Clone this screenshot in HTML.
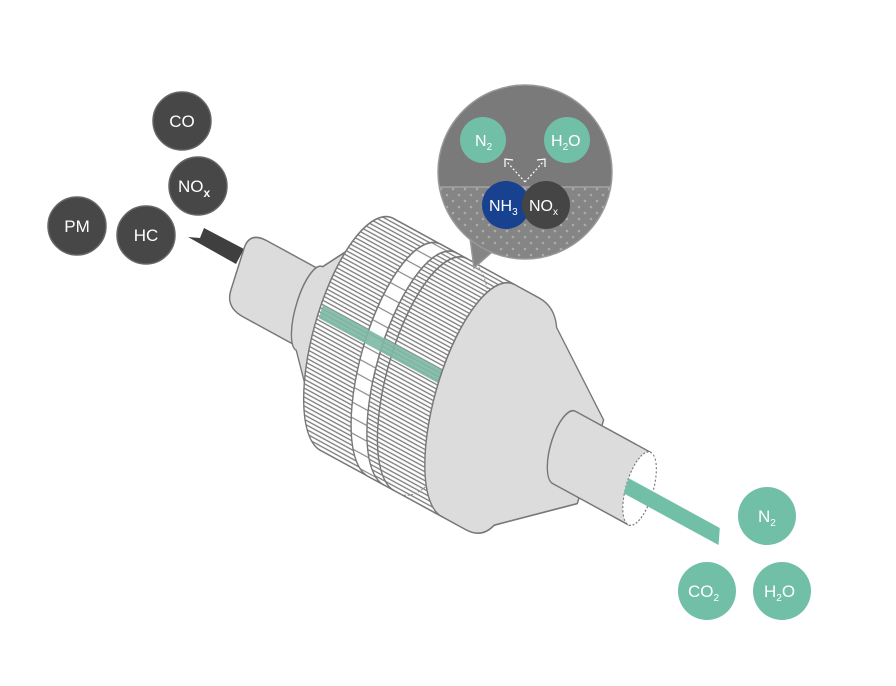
<!DOCTYPE html>
<html><head><meta charset="utf-8"><style>
html,body{margin:0;padding:0;background:#fff}
svg{display:block}
text{font-family:"Liberation Sans",sans-serif;fill:#fff}
</style></head><body>
<svg width="896" height="686" viewBox="0 0 896 686" xmlns="http://www.w3.org/2000/svg">
<defs>
<pattern id="hatch" patternUnits="userSpaceOnUse" width="10" height="4">
<rect width="10" height="4" fill="#fff"/>
<line x1="0" y1="2" x2="10" y2="2" stroke="#777" stroke-width="1.3"/>
</pattern>
<pattern id="band" patternUnits="userSpaceOnUse" width="10" height="14">
<rect width="10" height="14" fill="#fff"/>
<line x1="0" y1="7" x2="10" y2="7" stroke="#888" stroke-width="1.2"/>
</pattern>
<pattern id="dots" patternUnits="userSpaceOnUse" width="12" height="12">
<rect width="12" height="12" fill="#858585"/>
<circle cx="3" cy="3" r="1.3" fill="#aaa"/>
<circle cx="9" cy="9" r="1.3" fill="#aaa"/>
</pattern>
<clipPath id="bot"><rect x="430" y="187" width="200" height="90"/></clipPath>
</defs>

<!-- inlet arrow -->
<polygon points="188,237 200,238 204,228 244,249 236,264" fill="#3f3f3f"/>

<g transform="matrix(0.878,0.479,-0.3,0.95,248,275)" stroke="#777" stroke-width="1.5" stroke-linejoin="round">
  <!-- inlet pipe -->
  <path d="M8,-40 L100,-40 L100,40 L8,40 Q-12,40 -12,22 L-12,-22 Q-12,-40 8,-40 Z" fill="#dcdcdc"/>
  <!-- inlet cone -->
  <path d="M70,-44 L126,-122 L126,122 L70,44 A14,44 0 0 1 70,-44 Z" fill="#dcdcdc"/>
  <!-- hatched body -->
  <path d="M124,-122 A44,122 0 0 0 124,122 L262,122 L262,-122 Z" fill="url(#hatch)"/>
  <!-- white band -->
  <path d="M178,-122 A44,122 0 0 0 178,122 L196,122 A44,122 0 0 1 196,-122 Z" fill="url(#band)"/>
  <path d="M208,-122 A44,122 0 0 0 208,122" fill="none"/>
  <path d="M214,-122 A44,122 0 0 1 214,122" fill="none" stroke="#888" stroke-width="1" stroke-dasharray="2,2"/>
  <!-- green stripe -->
  <rect x="82" y="-10" width="146" height="14" fill="#7cb8a3" stroke="none" opacity="0.9"/>
  <!-- outlet cap -->
  <path d="M262,-122 L290,-122 Q308,-122 316,-104 L390,-44 L390,44 L316,104 Q308,122 290,122 L262,122 A44,122 0 0 1 262,-122 Z" fill="#dcdcdc"/>
  <!-- outlet pipe -->
  <path d="M360,-38 L446,-38 L446,38 L360,38 A14,38 0 0 1 360,-38 Z" fill="#dcdcdc"/>
  <ellipse cx="446" cy="0" rx="14" ry="38" fill="#fff" stroke="#777" stroke-width="1.2" stroke-dasharray="2,2"/>
  <!-- outlet stream -->
  <polygon points="432,-4 536,-4 540,12 432,12" fill="#72bfa8" stroke="none"/>
</g>

<!-- inset bubble -->
<polygon points="470,238 474,268 500,245" fill="#858585" stroke="#999" stroke-width="1.5"/>
<circle cx="525" cy="172" r="87" fill="#7a7a7a"/>
<circle cx="525" cy="172" r="87" fill="url(#dots)" clip-path="url(#bot)"/>
<polygon points="472,245 475,262 495,248" fill="#858585"/>
<circle cx="525" cy="172" r="87" fill="none" stroke="#999" stroke-width="1.5"/>
<line x1="440" y1="187" x2="610" y2="187" stroke="#aaa" stroke-width="1.2"/>
<g stroke="#fff" stroke-width="1.2" fill="none">
<line x1="525" y1="182" x2="507" y2="162" stroke-dasharray="2,2"/>
<line x1="525" y1="182" x2="543" y2="162" stroke-dasharray="2,2"/>
<polyline points="505,167 505,159 513,160"/>
<polyline points="545,167 545,159 537,160"/>
</g>
<circle cx="483" cy="140" r="23" fill="#72bfa8"/>
<circle cx="567" cy="140" r="23" fill="#72bfa8"/>
<circle cx="506" cy="205" r="24" fill="#18418f"/>
<circle cx="546" cy="205" r="24" fill="#454545"/>
<text x="475" y="146" font-size="16">N<tspan font-size="10" dy="4">2</tspan></text>
<text x="551" y="146" font-size="16">H<tspan font-size="10" dy="4">2</tspan><tspan dy="-4">O</tspan></text>
<text x="489" y="211" font-size="16">NH<tspan font-size="10" dy="4">3</tspan></text>
<text x="529" y="211" font-size="16">NO<tspan font-size="10" dy="4">x</tspan></text>

<!-- left pollutant circles -->
<g fill="#474747" stroke="#666" stroke-width="1.5">
<circle cx="182" cy="121" r="29"/>
<circle cx="198" cy="186" r="29"/>
<circle cx="77" cy="226" r="29"/>
<circle cx="146" cy="235" r="29"/>
</g>
<text x="182" y="127" font-size="17" text-anchor="middle">CO</text>
<text x="178" y="192" font-size="17">NO<tspan font-size="12" dy="5" font-weight="bold">x</tspan></text>
<text x="77" y="232" font-size="17" text-anchor="middle">PM</text>
<text x="146" y="241" font-size="17" text-anchor="middle">HC</text>

<!-- right product circles -->
<g fill="#72bfa8">
<circle cx="767" cy="516" r="29"/>
<circle cx="707" cy="591" r="29"/>
<circle cx="782" cy="591" r="29"/>
</g>
<text x="758" y="522" font-size="17">N<tspan font-size="10" dy="4">2</tspan></text>
<text x="688" y="597" font-size="17">CO<tspan font-size="10" dy="4">2</tspan></text>
<text x="764" y="597" font-size="17">H<tspan font-size="10" dy="4">2</tspan><tspan dy="-4">O</tspan></text>
</svg>
</body></html>
